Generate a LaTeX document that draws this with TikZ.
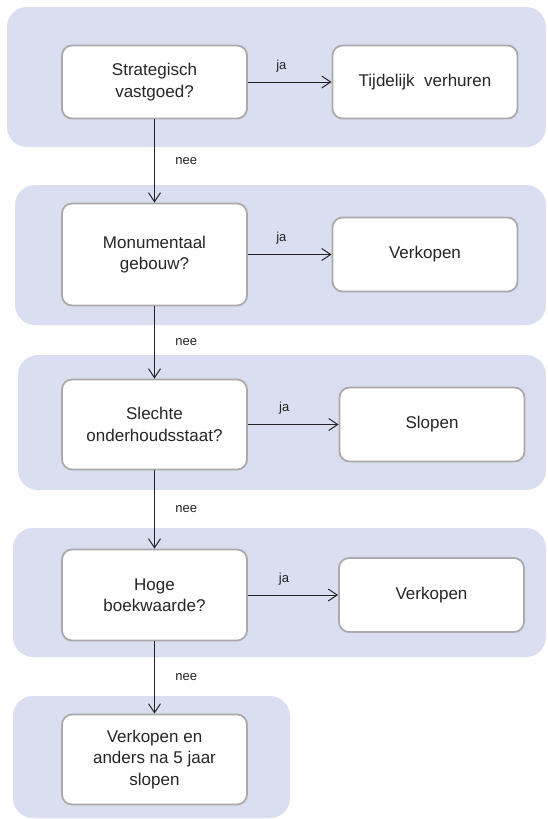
\documentclass[tikz,border=0pt]{standalone}
\usepackage{fontspec}
\setmainfont{Liberation Sans}
\usepackage{xcolor}
\usetikzlibrary{arrows.meta}
\definecolor{bandblue}{RGB}{218,222,241}
\definecolor{boxgray}{RGB}{170,170,170}
\definecolor{linegray}{RGB}{35,35,35}

\begin{document}
\begin{tikzpicture}[x=1pt,y=-1pt,
  band/.style={fill=bandblue, rounded corners=20pt},
  box/.style={draw=boxgray, line width=1.8pt, fill=white, rounded corners=10pt,
    align=center, minimum width=185pt, inner sep=2pt,
    font=\fontsize{17}{21.5}\selectfont, text=black!85},
  flow/.style={draw=linegray, line width=1pt, -{Straight Barb[length=9pt,width=12pt]}},
  lbl/.style={font=\fontsize{13}{15}\selectfont, text=linegray}]
\useasboundingbox (0,0) rectangle (547,819);
\clip (0,0) rectangle (547,819);
%bands
\fill[band] (7,7) rectangle (546,147);
\fill[band] (15,185) rectangle (546,325);
\fill[band] (18,355) rectangle (546,490);
\fill[band] (13,528) rectangle (546,657);
\fill[band] (13,696) rectangle (290,818);

\node[box, minimum height=73pt] (q1) at (154.5,82) {Strategisch\\vastgoed?};
\node[box, minimum height=73pt] (a1) at (425,82) {Tijdelijk\ \ verhuren};
\node[box, minimum height=102pt] (q2) at (154.5,254.5) {Monumentaal\\gebouw?};
\node[box, minimum height=74pt] (a2) at (425,254.5) {Verkopen};
\node[box, minimum height=90pt] (q3) at (154.5,424.5) {Slechte\\onderhoudsstaat?};
\node[box, minimum height=74pt] (a3) at (432,424.5) {Slopen};
\node[box, minimum height=91pt] (q4) at (154.5,595) {Hoge\\boekwaarde?};
\node[box, minimum height=74pt] (a4) at (431.5,595) {Verkopen};
\node[box, minimum height=90pt] (q5) at (154.5,759.5) {Verkopen en\\anders na 5 jaar\\slopen};

\foreach \q/\a in {q1/a1,q2/a2,q3/a3,q4/a4}
  \draw[flow] (\q) -- (\a) node[lbl, pos=0.4, above=6pt] (ja\q) {ja};
\foreach \p/\n in {q1/q2,q2/q3,q3/q4,q4/q5}
  \draw[flow] (\p) -- (\n) node[lbl, midway, right=17pt] (nee\p) {nee};
\end{tikzpicture}
\end{document}
